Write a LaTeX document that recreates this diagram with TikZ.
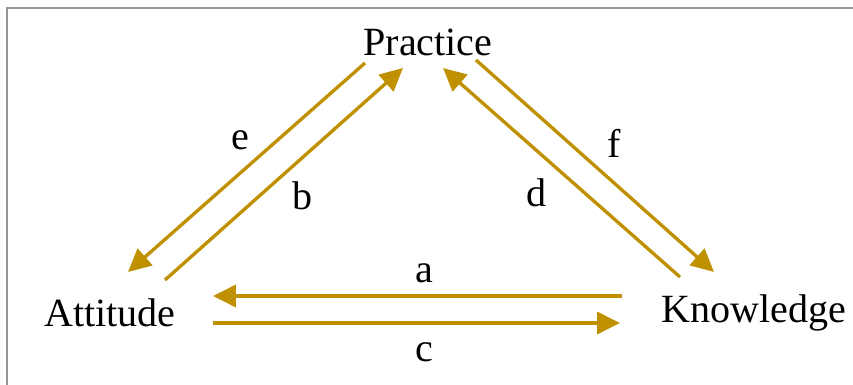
\documentclass[tikz,border=0pt]{standalone}
\usepackage{fontspec}
\setmainfont{Liberation Serif}
\definecolor{arrowgold}{RGB}{191,144,0}
\definecolor{framegray}{RGB}{150,150,150}
\usepackage{tikz}
\usetikzlibrary{arrows.meta,positioning}

\tikzset{
    concept/.style={inner sep=0pt, font=\fontsize{22.8}{27}\selectfont},
    linklabel/.style={inner sep=0pt, font=\fontsize{22.8}{27}\selectfont},
    link/.style={draw=arrowgold, line width=1.9pt, -{Triangle[length=13pt,width=12.5pt]}}
}

\begin{document}
\begin{tikzpicture}[x=0.02cm, y=-0.02cm]
            \useasboundingbox (0,0) rectangle (853,385);
            % frame
            \draw[framegray, line width=1.2pt] (7,385) -- (7,8) -- (853,8);

            % concepts
            \node[concept] (practice) at (428,42) {Practice};
            \node[concept] (attitude) at (110,313) {Attitude};
            \node[concept] (knowledge) at (754,313) {Knowledge};

            % arrow ends
            \coordinate (eS) at (365,63);   \coordinate (eT) at (128,272);
            \coordinate (bS) at (165,280);  \coordinate (bT) at (403,68);
            \coordinate (dS) at (680,277);  \coordinate (dT) at (443,68);
            \coordinate (fS) at (476,60);   \coordinate (fT) at (714,272);
            \coordinate (aS) at (622,296);  \coordinate (aT) at (213,296);
            \coordinate (cS) at (213,323);  \coordinate (cT) at (620,323);

            \draw[link] (eS) -- (eT);
            \draw[link] (bS) -- (bT);
            \draw[link] (dS) -- (dT);
            \draw[link] (fS) -- (fT);
            \draw[link] (aS) -- (aT);
            \draw[link] (cS) -- (cT);

            % labels
            \node[linklabel] (labE) at (240,140) {e};
            \node[linklabel] (labB) at (303,196) {b};
            \node[linklabel] (labD) at (537,193) {d};
            \node[linklabel] (labF) at (614,143) {f};
            \node[linklabel] (labA) at (424,273) {a};
            \node[linklabel] (labC) at (424,352) {c};
        \end{tikzpicture}
\end{document}
